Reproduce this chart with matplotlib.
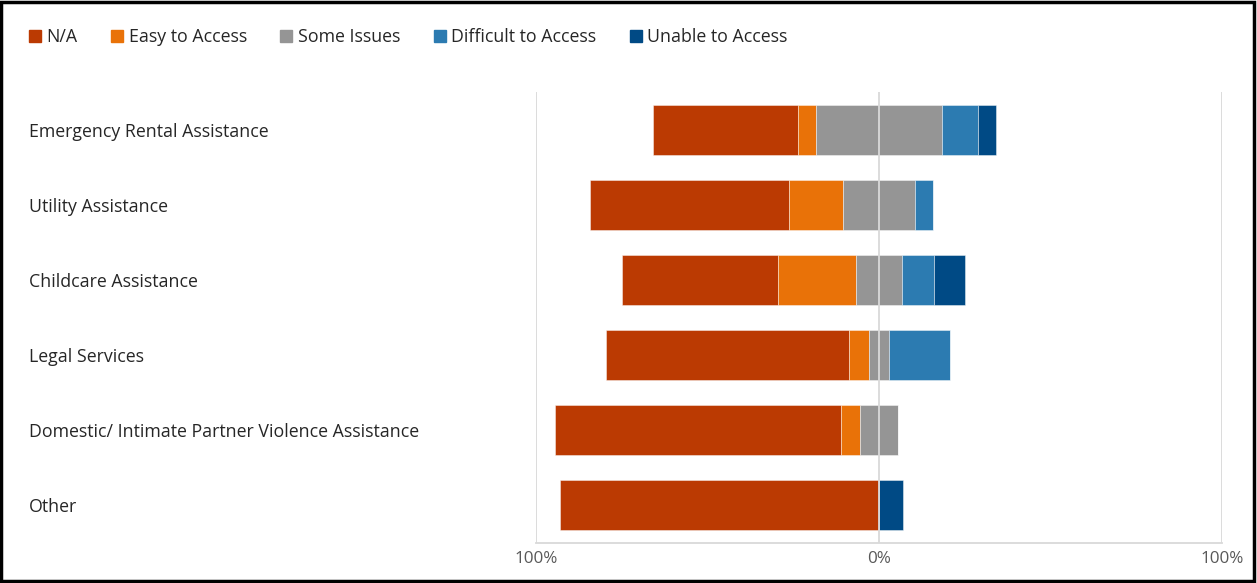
import matplotlib.pyplot as plt
from matplotlib.patches import Rectangle
from matplotlib.lines import Line2D
import numpy as np

plt.rcParams['font.family'] = ['Open Sans', 'DejaVu Sans']

# survey categories (top to bottom) and response shares in percent
categories = ['Emergency Rental Assistance', 'Utility Assistance', 'Childcare Assistance',
              'Legal Services', 'Domestic/ Intimate Partner Violence Assistance', 'Other']
series_names = ['N/A', 'Easy to Access', 'Some Issues', 'Difficult to Access', 'Unable to Access']
na = [42.1, 57.9, 45.5, 70.6, 83.3, 92.9]
easy = [5.3, 15.8, 22.7, 5.9, 5.6, 0.0]
some = [36.8, 21.1, 13.6, 5.9, 11.1, 0.0]
difficult = [10.5, 5.3, 9.1, 17.6, 0.0, 0.0]
unable = [5.3, 0.0, 9.1, 0.0, 0.0, 7.1]
colors = ['#BB3A02', '#E97208', '#959595', '#2C7BB1', '#004A85']

fig = plt.figure(figsize=(12.57, 5.83), dpi=100)
ax = fig.add_axes([0.4264, 0.0686, 0.9722 - 0.4264, 0.8422 - 0.0686])

y = np.arange(len(categories))
values = [np.array(v) for v in (na, easy, some, difficult, unable)]
# diverging: centre "Some Issues" on zero
left = -(values[0] + values[1] + values[2] / 2)
for vals, c, name in zip(values, colors, series_names):
    ax.barh(y, vals, left=left, height=0.667, color=c, edgecolor=(1, 1, 1, 0.5),
            linewidth=0.6, label=name, zorder=2)
    left = left + vals

ax.set_xlim(-100, 100)
ax.set_ylim(len(categories) - 0.5, -0.5)

# grid lines at -100, 0, 100 and bottom axis
for xv in (-100, 0, 100):
    ax.axvline(xv, color='#d9d9d9', linewidth=1.3, zorder=3 if xv == 0 else 1)
for s in ['top', 'left', 'right']:
    ax.spines[s].set_visible(False)
ax.spines['bottom'].set_color('#d9d9d9')
ax.spines['bottom'].set_linewidth(1.3)

ax.set_xticks([-100, 0, 100])
ax.set_xticklabels(['100%', '0%', '100%'], color='#595959', fontsize=12.3)
ax.tick_params(axis='x', length=0, pad=6)

ax.set_yticks(y)
ax.set_yticklabels(categories, fontsize=12.8, color='#262626')
ax.tick_params(axis='y', length=0, pad=365)
for lbl in ax.get_yticklabels():
    lbl.set_ha('left')

handles = [Line2D([0], [0], marker='s', linestyle='none', markersize=8,
                  markerfacecolor=c, markeredgecolor=c) for c in colors]
fig.legend(handles, series_names, loc='center left', bbox_to_anchor=(0.008, 0.936),
           ncol=5, frameon=False, fontsize=12.8, handletextpad=0.15, columnspacing=1.72,
           handlelength=1.0, labelcolor='#262626')

# outer frame
fig.patches.append(Rectangle((0.001, 0.004), 0.997, 0.993, transform=fig.transFigure,
                             fill=False, edgecolor='black', linewidth=2.5))

fig.savefig('out.png', dpi=100)
